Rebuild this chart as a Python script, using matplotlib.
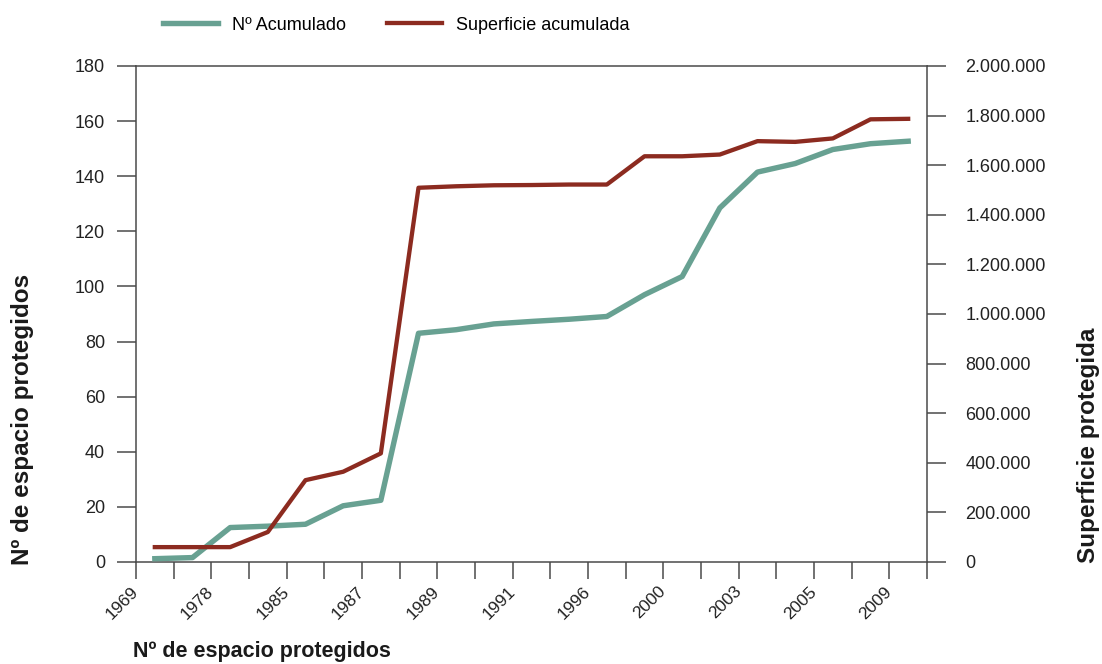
import matplotlib
matplotlib.use("Agg")
import matplotlib.pyplot as plt
from matplotlib.ticker import FuncFormatter
from matplotlib.transforms import ScaledTranslation
import numpy as np

# ---------------- data ----------------
categories = list(range(21))
tick_years = ["1969", "1978", "1985", "1987", "1989", "1991",
              "1996", "2000", "2003", "2005", "2009"]
num_acumulado = [1.2, 1.6, 12.5, 13.0, 13.7, 20.4, 22.4, 83.0, 84.3, 86.4, 87.3,
                 88.1, 89.1, 97.0, 103.6, 128.5, 141.5, 144.6, 149.7, 151.8, 152.7]
superficie_acumulada = [60000, 60000, 60000, 121000, 330000, 364000, 438000,
                        1509000, 1515000, 1519000, 1520000, 1522000, 1522000,
                        1636000, 1636000, 1643000, 1697000, 1694000, 1708000,
                        1785000, 1787000]
left_ticks = list(range(0, 181, 20))
right_ticks = list(range(0, 2000001, 200000))

GREEN = "#68a192"
RED = "#8c2b20"
AXC = "#4a4a4a"
FONT = "Liberation Sans"

plt.rcParams["font.family"] = [FONT, "DejaVu Sans"]

fig = plt.figure(figsize=(11.02, 6.64), dpi=100)
W, H = 1102, 664
ax = fig.add_axes([136 / W, 102 / H, 791 / W, 496 / H])
ax2 = ax.twinx()

x = np.arange(len(categories))
l1, = ax.plot(x, num_acumulado, color=GREEN, lw=3.9,
              solid_joinstyle="round", label="Nº Acumulado", zorder=3)
l2, = ax2.plot(x, superficie_acumulada, color=RED, lw=3.1,
               solid_joinstyle="round", label="Superficie acumulada", zorder=3)

ax.set_xlim(-0.5, len(categories) - 0.5)
ax.set_ylim(0, 180)
ax2.set_ylim(0, 2000000)

# x ticks at category boundaries, labels every second boundary
xt = np.arange(-0.5, len(categories), 1.0)
xl = [""] * len(xt)
for i, yr in enumerate(tick_years):
    xl[2 * i] = yr
ax.set_xticks(xt)
ax.set_xticklabels(xl, fontsize=12.5)
shift = ScaledTranslation(7 / 72, 0, fig.dpi_scale_trans)
for lbl in ax.get_xticklabels():
    lbl.set_rotation(45)
    lbl.set_ha("right")
    lbl.set_va("center")
    lbl.set_rotation_mode("anchor")
    lbl.set_transform(lbl.get_transform() + shift)
ax.tick_params(axis="x", direction="out", length=12.5, width=1.1,
               color=AXC, pad=7, labelcolor="#222222")

ax.set_yticks(left_ticks)
ax.tick_params(axis="y", direction="out", length=13.7, width=1.1,
               color=AXC, pad=8.5, labelsize=13, labelcolor="#222222")

ax2.set_yticks(right_ticks)
ax2.yaxis.set_major_formatter(
    FuncFormatter(lambda v, p: f"{int(round(v)):,}".replace(",", ".")))
ax2.tick_params(axis="y", direction="out", length=13.7, width=1.1,
                color=AXC, pad=14, labelsize=13, labelcolor="#222222")

for s in ax.spines.values():
    s.set_color(AXC)
    s.set_linewidth(1.1)
ax.spines["right"].set_visible(False)
for k, s in ax2.spines.items():
    s.set_visible(k == "right")
    s.set_color(AXC)
    s.set_linewidth(1.1)

# titles
fig.text(23 / W, 1 - 419 / H, "Nº de espacio protegidos", rotation=90,
         ha="center", va="center", fontsize=17.5, fontweight="bold",
         color="#1a1a1a")
fig.text(1088 / W, 1 - 445 / H, "Superficie protegida", rotation=90,
         ha="center", va="center", fontsize=17.5, fontweight="bold",
         color="#1a1a1a")
fig.text(133 / W, 1 - 657 / H, "Nº de espacio protegidos",
         ha="left", va="baseline", fontsize=15.5, fontweight="bold",
         color="#1a1a1a")

# legend
fig.legend(handles=[l1, l2], loc="center left",
           bbox_to_anchor=(163 / W, 1 - 25 / H), ncol=2, frameon=False,
           fontsize=13, handlelength=3.05, handletextpad=0.75,
           columnspacing=2.3, borderpad=0, borderaxespad=0)

fig.savefig("out.png", dpi=100, facecolor="white")
